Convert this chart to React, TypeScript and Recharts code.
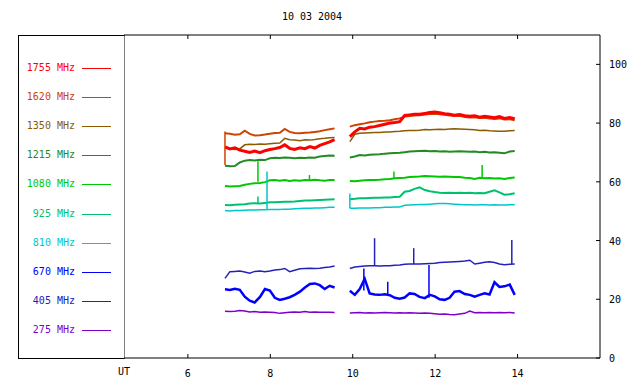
import { LineChart, Line, XAxis, YAxis } from "recharts";

// UT hours, first and second observing block
const TIMES_A = [6.9, 7.02, 7.14, 7.26, 7.38, 7.5, 7.62, 7.75, 7.87, 7.99, 8.11, 8.23, 8.35, 8.47, 8.59, 8.72, 8.84, 8.96, 9.08, 9.2, 9.32, 9.44, 9.56];
const TIMES_B = [9.93, 10.05, 10.17, 10.29, 10.41, 10.53, 10.65, 10.78, 10.9, 11.02, 11.14, 11.26, 11.38, 11.5, 11.62, 11.75, 11.87, 11.99, 12.11, 12.23, 12.35, 12.47, 12.59, 12.72, 12.84, 12.96, 13.08, 13.2, 13.32, 13.44, 13.56, 13.68, 13.81, 13.93];

const F1755_A = [71.9, 71.2, 71.6, 70.8, 70.4, 70.0, 70.5, 69.9, 70.6, 71.0, 71.3, 71.7, 72.6, 71.4, 71.0, 71.6, 71.3, 72.0, 71.5, 72.4, 73.0, 73.6, 74.4];
const F1755_B = [75.4, 77.0, 78.2, 78.0, 78.6, 78.8, 79.2, 79.6, 80.0, 80.2, 80.5, 82.6, 82.8, 83.0, 83.0, 83.3, 83.6, 83.8, 83.5, 83.2, 83.0, 82.7, 82.9, 82.5, 82.3, 82.5, 82.0, 82.3, 82.1, 81.8, 82.2, 81.6, 81.9, 81.5];
const F1620_A = [76.5, 76.4, 76.0, 76.2, 77.4, 76.3, 75.8, 75.9, 76.1, 76.4, 76.6, 76.7, 78.0, 77.0, 76.6, 76.5, 76.7, 76.8, 77.0, 77.2, 77.6, 77.9, 78.2];
const F1620_B = [78.8, 79.3, 79.6, 79.9, 80.3, 80.5, 80.7, 80.8, 81.0, 81.3, 81.6, 82.2, 82.4, 82.6, 82.7, 82.9, 83.1, 83.2, 83.0, 82.8, 82.6, 82.4, 82.5, 82.1, 81.9, 82.0, 81.7, 81.8, 81.6, 81.4, 81.6, 81.2, 81.3, 81.0];
const F1350_A = [71.4, 71.3, 71.0, 71.2, 72.6, 72.8, 72.7, 72.9, 72.8, 73.0, 73.1, 73.2, 74.8, 74.3, 74.2, 74.0, 74.3, 74.2, 74.4, 74.7, 74.8, 75.0, 75.1];
const F1350_B = [73.7, 76.2, 76.5, 76.6, 76.7, 76.8, 76.8, 77.0, 77.0, 77.1, 77.2, 77.4, 77.5, 77.5, 77.6, 77.8, 77.7, 77.8, 77.9, 77.8, 78.0, 78.1, 78.0, 77.9, 77.8, 77.7, 77.5, 77.6, 77.4, 77.3, 77.2, 77.2, 77.4, 77.5];
const F1215_A = [65.5, 65.3, 65.4, 66.6, 67.2, 67.4, 67.3, 67.5, 67.4, 68.0, 68.2, 68.1, 68.3, 68.2, 68.0, 68.2, 68.1, 68.3, 68.2, 68.6, 68.8, 69.0, 68.9];
const F1215_B = [68.3, 68.6, 69.1, 69.0, 69.2, 69.3, 69.4, 69.6, 69.7, 69.8, 69.9, 70.1, 70.3, 70.4, 70.5, 70.6, 70.4, 70.5, 70.3, 70.4, 70.2, 70.3, 70.4, 70.3, 70.2, 70.3, 70.1, 70.2, 70.0, 70.1, 69.9, 69.7, 70.3, 70.5];
const F1080_A = [58.6, 58.4, 58.5, 58.6, 59.0, 59.3, 59.5, 59.6, 59.9, 60.5, 60.6, 60.4, 60.6, 60.3, 60.5, 60.4, 60.6, 60.5, 60.7, 60.5, 60.4, 60.6, 60.6];
const F1080_B = [60.3, 60.2, 60.4, 60.5, 60.6, 60.6, 60.7, 60.9, 61.0, 61.2, 61.3, 61.4, 61.6, 61.7, 61.8, 62.0, 61.9, 61.8, 61.7, 61.8, 61.7, 61.6, 61.6, 61.4, 61.3, 61.0, 61.4, 61.2, 61.3, 61.1, 61.2, 61.0, 61.3, 61.5];
const F925_A = [52.1, 52.0, 52.2, 52.3, 52.4, 52.6, 52.7, 52.6, 52.8, 53.0, 53.0, 53.1, 53.2, 53.2, 53.3, 53.5, 53.6, 53.6, 53.7, 53.8, 53.9, 54.0, 54.1];
const F925_B = [54.1, 54.2, 54.4, 54.4, 54.5, 54.6, 54.6, 54.7, 54.7, 54.8, 54.9, 56.6, 56.9, 57.6, 58.1, 57.2, 56.8, 56.5, 56.3, 56.2, 56.3, 56.2, 56.3, 56.2, 56.3, 56.1, 56.2, 56.1, 56.6, 57.1, 56.4, 55.6, 55.8, 56.1];
const F810_A = [50.2, 50.1, 50.2, 50.2, 50.3, 50.4, 50.4, 50.5, 50.5, 50.6, 50.6, 50.6, 50.7, 50.7, 50.8, 50.9, 51.0, 51.0, 51.1, 51.1, 51.2, 51.3, 51.3];
const F810_B = [51.0, 51.0, 51.1, 51.1, 51.1, 51.2, 51.2, 51.3, 51.3, 51.4, 51.4, 52.0, 52.1, 52.2, 52.3, 52.3, 52.4, 52.5, 52.6, 52.6, 52.5, 52.4, 52.3, 52.2, 52.2, 52.1, 52.2, 52.2, 52.1, 52.2, 52.1, 52.1, 52.2, 52.2];
const F670_A = [23.4, 23.2, 23.6, 23.2, 20.9, 19.5, 18.9, 20.8, 23.5, 23.0, 20.5, 19.8, 20.2, 20.7, 21.5, 22.6, 24.0, 25.2, 25.4, 24.8, 23.5, 24.6, 24.0];
const F670_B = [22.9, 21.5, 23.5, 27.0, 22.0, 21.6, 21.5, 21.7, 21.4, 20.5, 20.2, 20.6, 22.0, 21.8, 20.8, 20.4, 21.5, 21.0, 20.0, 19.8, 20.5, 22.6, 22.8, 21.8, 21.5, 20.9, 21.5, 22.0, 21.6, 25.8, 24.2, 24.4, 25.0, 21.5];
const F405_A = [27.1, 29.4, 29.5, 29.6, 29.3, 28.9, 29.5, 29.6, 29.4, 29.6, 30.0, 30.1, 30.5, 29.4, 29.9, 30.4, 30.5, 30.6, 30.5, 30.6, 30.8, 31.0, 31.3];
const F405_B = [30.5, 31.0, 31.2, 31.3, 31.4, 31.4, 31.3, 31.4, 31.4, 31.6, 31.7, 31.9, 32.0, 32.0, 32.0, 32.1, 32.2, 32.3, 32.5, 32.6, 32.7, 32.8, 32.9, 33.0, 33.3, 32.0, 32.3, 32.6, 32.8, 32.5, 32.0, 31.8, 31.9, 32.0];
const F275_A = [15.9, 15.8, 15.9, 16.2, 16.0, 15.7, 15.8, 15.6, 15.7, 15.6, 15.5, 15.2, 15.4, 15.6, 15.7, 15.6, 15.8, 15.6, 15.7, 15.6, 15.6, 15.6, 15.5];
const F275_B = [15.3, 15.4, 15.5, 15.3, 15.4, 15.3, 15.4, 15.5, 15.4, 15.3, 15.4, 15.3, 15.4, 15.3, 15.2, 15.3, 15.2, 15.1, 14.9, 15.0, 14.8, 14.7, 15.0, 15.2, 16.0, 15.4, 15.5, 15.4, 15.5, 15.4, 15.5, 15.4, 15.5, 15.3];

// short bursts: time, low, high
const SPIKES = [
  { band: "1620 MHz", t: 6.9, lo: 65.7, hi: 77.1 },
  { band: "1080 MHz", t: 7.7, lo: 60.0, hi: 67.0 },
  { band: "925 MHz", t: 7.7, lo: 52.6, hi: 55.0 },
  { band: "810 MHz", t: 7.92, lo: 50.5, hi: 63.5 },
  { band: "1080 MHz", t: 8.95, lo: 60.5, hi: 62.3 },
  { band: "810 MHz", t: 9.93, lo: 51.0, hi: 56.0 },
  { band: "1080 MHz", t: 11.0, lo: 61.2, hi: 63.5 },
  { band: "1080 MHz", t: 13.14, lo: 61.2, hi: 65.7 },
  { band: "405 MHz", t: 10.53, lo: 31.4, hi: 40.8 },
  { band: "405 MHz", t: 11.48, lo: 32.0, hi: 37.4 },
  { band: "405 MHz", t: 13.86, lo: 32.0, hi: 40.2 },
  { band: "670 MHz", t: 10.27, lo: 23.0, hi: 30.5 },
  { band: "670 MHz", t: 10.85, lo: 21.5, hi: 26.0 },
  { band: "670 MHz", t: 11.85, lo: 20.5, hi: 31.7 },
];

const X_MIN = 4.45;
const X_MAX = 16;
const X_TICKS = [6, 8, 10, 12, 14];
const Y_TICKS = [0, 20, 40, 60, 80, 100];
const GAP_T = 9.75;

// legend order, top to bottom
const BANDS = [
  { label: "1755 MHz", color: "#ff0000", a: F1755_A, b: F1755_B, w: 3 },
  { label: "1620 MHz", color: "#cc4400", a: F1620_A, b: F1620_B, w: 2 },
  { label: "1350 MHz", color: "#8c5a00", a: F1350_A, b: F1350_B, w: 1.5 },
  { label: "1215 MHz", color: "#228b22", a: F1215_A, b: F1215_B, w: 2 },
  { label: "1080 MHz", color: "#00c800", a: F1080_A, b: F1080_B, w: 2 },
  { label: "925 MHz", color: "#00c070", a: F925_A, b: F925_B, w: 2 },
  { label: "810 MHz", color: "#00c8c8", a: F810_A, b: F810_B, w: 1.5 },
  { label: "670 MHz", color: "#0000ff", a: F670_A, b: F670_B, w: 2.5 },
  { label: "405 MHz", color: "#2222bb", a: F405_A, b: F405_B, w: 1.5 },
  { label: "275 MHz", color: "#8000c8", a: F275_A, b: F275_B, w: 1.5 },
];

const FONT = "'DejaVu Sans Mono', monospace";

function buildSeries(a: number[], b: number[]) {
  return [
    ...TIMES_A.map((t, i) => ({ t, v: a[i] })),
    { t: GAP_T, v: null },
    ...TIMES_B.map((t, i) => ({ t, v: b[i] })),
  ];
}

const BottomTick = (props: any) => {
  const { x, y, payload } = props;
  if (payload.value === X_MIN) {
    return (
      <text x={x} y={y + 17} textAnchor="middle" fontSize={10} fontFamily={FONT} fill="#000">
        UT
      </text>
    );
  }
  return (
    <g>
      <line x1={x} x2={x} y1={y} y2={y - 4} stroke="#000" />
      <text x={x} y={y + 19} textAnchor="middle" fontSize={10} fontFamily={FONT} fill="#000">
        {payload.value}
      </text>
    </g>
  );
};

const TopTick = (props: any) => {
  const { x, y } = props;
  return <line x1={x} x2={x} y1={y} y2={y + 4} stroke="#000" />;
};

const RightTick = (props: any) => {
  const { x, y, payload } = props;
  return (
    <g>
      <line x1={x} x2={x - 4} y1={y} y2={y} stroke="#000" />
      <text x={x + 9} y={y + 4} textAnchor="start" fontSize={10} fontFamily={FONT} fill="#000">
        {payload.value}
      </text>
    </g>
  );
};

export default function App() {
  const drawOrder = [...BANDS].reverse();
  return (
    <div style={{ position: "absolute", left: 0, top: 0, width: 640, height: 384, background: "#fff", fontFamily: FONT }}>
      <div style={{ position: "absolute", left: 262, top: 11, width: 100, textAlign: "center", fontSize: 10, lineHeight: "12px" }}>
        10 03 2004
      </div>
      <div
        style={{
          position: "absolute",
          left: 18,
          top: 35,
          width: 107,
          height: 324,
          boxSizing: "border-box",
          borderTop: "1px solid #000",
          borderLeft: "1px solid #000",
          borderBottom: "1px solid #000",
          borderRight: "1px solid #808080",
        }}
      />
      {BANDS.map((b, i) => {
        const cy = 67.7 + 29.18 * i;
        return (
          <div key={b.label}>
            <div
              style={{
                position: "absolute",
                left: 18,
                width: 57,
                top: cy - 6,
                height: 12,
                lineHeight: "12px",
                fontSize: 10,
                textAlign: "right",
                color: b.color,
                whiteSpace: "nowrap",
              }}
            >
              {b.label}
            </div>
            <div style={{ position: "absolute", left: 82, width: 29, top: Math.round(cy), height: 1, background: b.color }} />
          </div>
        );
      })}
      <LineChart width={640} height={384} margin={{ top: 30, right: 0, bottom: 6, left: 124 }} style={{ position: "absolute", left: 0, top: 0 }}>
        <XAxis
          xAxisId="bottom"
          dataKey="t"
          type="number"
          domain={[X_MIN, X_MAX]}
          ticks={[X_MIN, ...X_TICKS]}
          interval={0}
          allowDataOverflow
          height={20}
          axisLine={{ stroke: "#000" }}
          tickLine={false}
          tickSize={0}
          tickMargin={0}
          tick={BottomTick}
        />
        <XAxis
          xAxisId="top"
          orientation="top"
          dataKey="t"
          type="number"
          domain={[X_MIN, X_MAX]}
          ticks={X_TICKS}
          interval={0}
          allowDataOverflow
          height={5}
          axisLine={{ stroke: "#000" }}
          tickLine={false}
          tickSize={0}
          tickMargin={0}
          tick={TopTick}
        />
        <YAxis
          yAxisId="right"
          orientation="right"
          type="number"
          domain={[0, 110]}
          ticks={Y_TICKS}
          interval={0}
          allowDataOverflow
          width={40}
          axisLine={{ stroke: "#000" }}
          tickLine={false}
          tickSize={0}
          tickMargin={0}
          tick={RightTick}
        />
        {drawOrder.map((b) => (
          <Line
            key={b.label}
            xAxisId="bottom"
            yAxisId="right"
            data={buildSeries(b.a, b.b)}
            dataKey="v"
            type="linear"
            stroke={b.color}
            strokeWidth={b.w}
            dot={false}
            activeDot={false}
            connectNulls={false}
            isAnimationActive={false}
          />
        ))}
        {SPIKES.map((s, i) => {
          const band = BANDS.find((b) => b.label === s.band)!;
          return (
            <Line
              key={"spike" + i}
              xAxisId="bottom"
              yAxisId="right"
              data={[
                { t: s.t, v: s.lo },
                { t: s.t, v: s.hi },
              ]}
              dataKey="v"
              type="linear"
              stroke={band.color}
              strokeWidth={1.5}
              dot={false}
              activeDot={false}
              isAnimationActive={false}
            />
          );
        })}
        {/* dummy series so the top axis gets drawn */}
        <Line
          xAxisId="top"
          yAxisId="right"
          data={[{ t: X_MIN, v: null }]}
          dataKey="v"
          dot={false}
          activeDot={false}
          stroke="none"
          isAnimationActive={false}
        />
      </LineChart>
    </div>
  );
}
